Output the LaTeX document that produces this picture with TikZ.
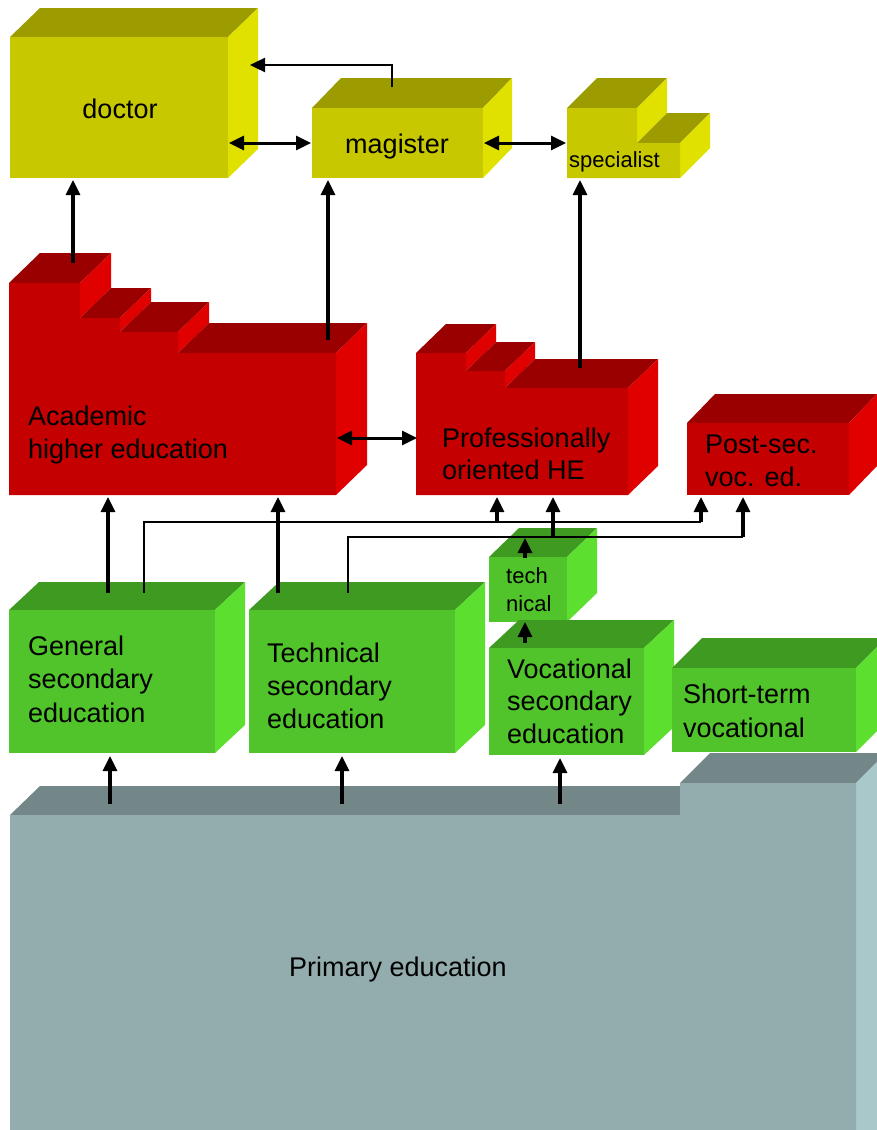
\documentclass[tikz,border=0pt]{standalone}
\usepackage{fontspec}
\setmainfont{Liberation Sans}
\usetikzlibrary{arrows.meta}
\definecolor{yF}{HTML}{C8C800}
\definecolor{yT}{HTML}{9C9C00}
\definecolor{yR}{HTML}{E1E100}
\definecolor{rF}{HTML}{C40000}
\definecolor{rT}{HTML}{9A0000}
\definecolor{rR}{HTML}{E00000}
\definecolor{gF}{HTML}{50C42A}
\definecolor{gT}{HTML}{3F9A22}
\definecolor{gR}{HTML}{5CDF2E}
\definecolor{pF}{HTML}{93ACAE}
\definecolor{pT}{HTML}{738789}
\definecolor{pR}{HTML}{A8C8CA}
% simple cuboid: x1,y1,x2,y2 (front face), dx,dy (depth), colour prefix
\newcommand\mycuboid[7]{%
  \fill[#7T] (#1,#2) -- ++(#5,#6) -- ++({#3-#1},0) -- (#3,#2) -- cycle;
  \fill[#7R] (#3,#2) -- ++(#5,#6) -- ++(0,{#4-#2}) -- (#3,#4) -- cycle;
  \fill[#7F] (#1,#2) rectangle (#3,#4);}
\tikzset{
  lbl/.style={font=\fontsize{27}{33}\selectfont, inner sep=0pt, anchor=base west},
  small/.style={font=\fontsize{22}{28}\selectfont, inner sep=0pt, anchor=base west},
  tip/.tip={Triangle[length=15pt,width=14pt]},
  arr/.style={line width=3.2pt, -tip},
  darr/.style={line width=3pt, tip-tip},
  thinl/.style={line width=1.8pt}
}
\begin{document}
\begin{tikzpicture}[x=1pt,y=-1pt]
\useasboundingbox (0,0) rectangle (877,1130);
\clip (0,0) rectangle (877,1130);

% ---------- yellow row ----------
\mycuboid{10}{37}{228}{178}{30}{-29}{y}
\mycuboid{312}{108}{483}{178}{29}{-30}{y}
% specialist (stepped)
\fill[yT] (567,108) -- (597,78) -- (667,78) -- (637,108) -- cycle;
\fill[yR] (637,108) -- (667,78) -- (667,113) -- (637,143) -- cycle;
\fill[yT] (637,143) -- (667,113) -- (710,113) -- (680,143) -- cycle;
\fill[yR] (680,143) -- (710,113) -- (710,148) -- (680,178) -- cycle;
\fill[yF] (567,108) -- (637,108) -- (637,143) -- (680,143) -- (680,178) -- (567,178) -- cycle;

\node[lbl, anchor=base] (doctor) at (120,118) {doctor};
\node[lbl, anchor=base] (magister) at (397,153) {magister};
\node[font=\fontsize{22}{26}\selectfont, inner sep=0pt, anchor=base west] (specialist) at (569,167) {specialist};

% ---------- red row ----------
% academic (stairs)
\fill[rT] (9,283) -- (40,253) -- (111,253) -- (80,283) -- cycle;
\fill[rR] (80,283) -- (111,253) -- (111,288) -- (80,318) -- cycle;
\fill[rT] (80,318) -- (111,288) -- (151,288) -- (120,318) -- cycle;
\fill[rR] (120,318) -- (151,288) -- (151,302) -- (120,332) -- cycle;
\fill[rT] (120,332) -- (151,302) -- (209,302) -- (178,332) -- cycle;
\fill[rR] (178,332) -- (209,302) -- (209,323) -- (178,353) -- cycle;
\fill[rT] (178,353) -- (209,323) -- (367,323) -- (336,353) -- cycle;
\fill[rR] (336,353) -- (367,323) -- (367,465) -- (336,495) -- cycle;
\fill[rF] (9,283) -- (80,283) -- (80,318) -- (120,318) -- (120,332) -- (178,332)
  -- (178,353) -- (336,353) -- (336,495) -- (9,495) -- cycle;
% professional (stairs)
\fill[rT] (416,353) -- (446,324) -- (496,324) -- (466,353) -- cycle;
\fill[rR] (466,353) -- (496,324) -- (496,342) -- (466,371) -- cycle;
\fill[rT] (466,371) -- (496,342) -- (535,342) -- (505,371) -- cycle;
\fill[rR] (505,371) -- (535,342) -- (535,359) -- (505,388) -- cycle;
\fill[rT] (505,388) -- (535,359) -- (658,359) -- (628,388) -- cycle;
\fill[rR] (628,388) -- (658,359) -- (658,466) -- (628,495) -- cycle;
\fill[rF] (416,353) -- (466,353) -- (466,371) -- (505,371) -- (505,388) -- (628,388)
  -- (628,495) -- (416,495) -- cycle;
% post-secondary
\mycuboid{687}{423}{849}{495}{28}{-29}{r}

\node[lbl] (academic) at (28,425) {\vtop{\hbox{Academic}\hbox{higher education}}};
\node[lbl] (professional) at (442,447) {\vtop{\baselineskip=32pt\hbox{Professionally}\hbox{oriented HE}}};
\node[lbl] (postsec) at (705,453) {\vtop{\hbox{Post-sec.}\hbox{voc. ed.}}};

% ---------- green row ----------
\mycuboid{9}{610}{215}{753}{30}{-28}{g}
\mycuboid{249}{610}{455}{753}{30}{-28}{g}
\mycuboid{489}{557}{567}{622}{30}{-29}{g}
\mycuboid{489}{648}{644}{755}{30}{-28}{g}
\mycuboid{672}{668}{856}{752}{30}{-30}{g}

\node[lbl] (general) at (28,655) {\vtop{\baselineskip=33.5pt\hbox{General}\hbox{secondary}\hbox{education}}};
\node[lbl] (technical) at (267,662) {\vtop{\hbox{Technical}\hbox{secondary}\hbox{education}}};
\node[small] (tech) at (506,583) {\vtop{\hbox{tech}\hbox{nical}}};
\node[lbl] (vocational) at (507,678) {\vtop{\baselineskip=32.5pt\hbox{Vocational}\hbox{secondary}\hbox{education}}};
\node[lbl] (shortterm) at (683,703) {\vtop{\baselineskip=34pt\hbox{Short-term}\hbox{vocational}}};

% ---------- primary ----------
\fill[pT] (10,815) -- (40,786) -- (710,786) -- (680,815) -- cycle;
\fill[pT] (680,783) -- (710,753) -- (886,753) -- (856,783) -- cycle;
\fill[pR] (856,783) -- (886,753) -- (886,1140) -- (856,1140) -- cycle;
\fill[pF] (10,815) -- (680,815) -- (680,783) -- (856,783) -- (856,1140) -- (10,1140) -- cycle;
\node[lbl] (primary) at (289,976) {Primary education};

% ---------- connector end points ----------
\coordinate (acadA) at (73,263);   \coordinate (docA) at (73,180);
\coordinate (acadB) at (328,340);  \coordinate (magA) at (328,180);
\coordinate (magT) at (392,87);    \coordinate (docR) at (250,65);
\coordinate (docE) at (229,143);   \coordinate (magW) at (311,143);
\coordinate (magE) at (484,143);   \coordinate (specW) at (566,143);
\coordinate (profT) at (580,368);  \coordinate (specB) at (580,180);
\coordinate (acadE) at (337,438);  \coordinate (profW) at (417,438);
\coordinate (genA) at (108,593);   \coordinate (acadC) at (108,497);
\coordinate (genB) at (144,593);
\coordinate (tecA) at (278,593);   \coordinate (acadD) at (278,497);
\coordinate (tecB) at (348,593);
\coordinate (busA) at (497,522);   \coordinate (profA) at (497,497);
\coordinate (busB) at (701,522);   \coordinate (postA) at (701,497);
\coordinate (busC) at (553,537);   \coordinate (profB) at (553,497);
\coordinate (busD) at (743,537);   \coordinate (postB) at (743,497);
\coordinate (techT) at (525,558);  \coordinate (busE) at (525,538);
\coordinate (vocT) at (525,643);   \coordinate (techB) at (525,622);
\coordinate (priA) at (110,804);   \coordinate (genC) at (110,756);
\coordinate (priB) at (342,804);   \coordinate (tecC) at (342,756);
\coordinate (priC) at (560,804);   \coordinate (vocC) at (560,758);

% ---------- connectors ----------
\draw[arr] (acadA) -- (docA);
\draw[arr] (acadB) -- (magA);
\draw[arr, line width=2.4pt] (magT) |- (docR);
\draw[darr] (docE) -- (magW);
\draw[darr] (magE) -- (specW);
\draw[arr] (profT) -- (specB);
\draw[darr] (acadE) -- (profW);
\draw[arr] (genA) -- (acadC);
\draw[arr] (tecA) -- (acadD);
\draw[thinl] (genB) |- (busB);
\draw[thinl] (tecB) |- (busD);
\draw[arr] (busA) -- (profA);
\draw[arr] (busB) -- (postA);
\draw[arr] (busC) -- (profB);
\draw[arr] (busD) -- (postB);
\draw[arr] (techT) -- (busE);
\draw[arr] (vocT) -- (techB);
\draw[arr] (priA) -- (genC);
\draw[arr] (priB) -- (tecC);
\draw[arr] (priC) -- (vocC);
\end{tikzpicture}
\end{document}
